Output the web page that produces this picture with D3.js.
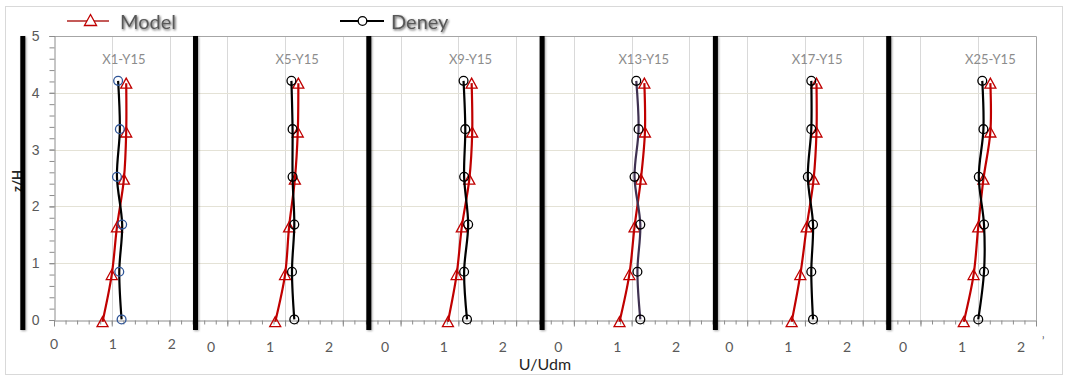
<!DOCTYPE html>
<html>
<head>
<meta charset="utf-8">
<script src="https://cdn.jsdelivr.net/npm/d3@7/dist/d3.min.js"></script>
<style>
  html, body { margin: 0; padding: 0; background: #fff; }
  svg { display: block; font-family: Lato, "Noto Sans", sans-serif; }
</style>
</head>
<body>
<div id="chart"></div>
<script>
// ---- data ----
const panelTitles = ['X1-Y15', 'X5-Y15', 'X9-Y15', 'X13-Y15', 'X17-Y15', 'X25-Y15'];
const seriesNames = ['Model', 'Deney'];

// z/H levels of the two series
const zModel = [-0.03, 0.80, 1.64, 2.48, 3.31, 4.17];
const zDeney = [0.01, 0.85, 1.68, 2.52, 3.36, 4.21];

// U/Udm per panel, bottom to top
const modelU = [
  [0.84, 1.00, 1.09, 1.21, 1.25, 1.25],
  [0.83, 1.00, 1.07, 1.17, 1.22, 1.23],
  [0.82, 0.97, 1.06, 1.19, 1.24, 1.23],
  [0.79, 0.96, 1.05, 1.16, 1.23, 1.22],
  [0.77, 0.92, 1.03, 1.15, 1.20, 1.20],
  [0.75, 0.92, 1.00, 1.09, 1.21, 1.21]
];
const deneyU = [
  [1.17, 1.13, 1.18, 1.09, 1.14, 1.11],
  [1.16, 1.12, 1.16, 1.13, 1.13, 1.11],
  [1.15, 1.10, 1.17, 1.10, 1.12, 1.09],
  [1.15, 1.10, 1.15, 1.05, 1.12, 1.08],
  [1.14, 1.11, 1.14, 1.05, 1.11, 1.11],
  [1.00, 1.10, 1.10, 1.01, 1.09, 1.07]
];

const xTickLabels = ['0', '1', '2'];
const yTickValues = [0, 1, 2, 3, 4, 5];

// ---- layout (axis units) ----
const panelStep = 3;                                   // each panel shifted by 3 units
const xMax = 17;
const separatorsU = [-0.54, 2.45, 5.45, 8.45, 11.45, 14.45];
const labelStartsU = [0, 2.72, 5.73, 8.73, 11.69, 14.70];
const labelStepU = 1.02;

const width = 1066, height = 376;
const plot = { left: 54, right: 1036, top: 36, bottom: 320 };

const colors = {
  model: '#c00000',
  modelLegend: '#c45a58',
  deney: '#000000',
  deneyLine: ['#000', '#000', '#000', '#3f3151', '#000', '#000'],
  deneyMarker: ['#2f5597', '#000', '#000', '#000', '#000', '#000'],
  gridH: '#e4e2d6',
  gridV: '#d9d9d9',
  axis: '#8c8c8c',
  label: '#595959',
  title: '#8c8c8c'
};

const svg = d3.select('#chart').append('svg')
  .attr('width', width)
  .attr('height', height);

const defs = svg.append('defs');
defs.append('filter').attr('id', 'txtShadow')
  .attr('x', '-20%').attr('y', '-40%').attr('width', '140%').attr('height', '180%')
  .append('feDropShadow')
  .attr('dx', 1).attr('dy', 1.2).attr('stdDeviation', 1.1)
  .attr('flood-color', '#000').attr('flood-opacity', 0.65);
defs.append('filter').attr('id', 'barShadow')
  .attr('x', '-100%').attr('y', '-5%').attr('width', '300%').attr('height', '110%')
  .append('feDropShadow')
  .attr('dx', 1).attr('dy', 1).attr('stdDeviation', 1)
  .attr('flood-color', '#000').attr('flood-opacity', 0.35);

// background + outer frame
svg.append('rect').attr('width', width).attr('height', height).attr('fill', '#fff');
svg.append('rect')
  .attr('x', 5.5).attr('y', 6.5)
  .attr('width', 1057).attr('height', 368)
  .attr('fill', 'none').attr('stroke', '#d9d9d9');

const x = d3.scaleLinear().domain([0, xMax]).range([plot.left, plot.right]);
const y = d3.scaleLinear().domain([0, 5]).range([plot.bottom, plot.top]);

// gridlines
svg.append('g')
  .selectAll('line')
  .data(d3.range(1, xMax))
  .join('line')
  .attr('x1', d => Math.round(x(d)) + 0.5).attr('x2', d => Math.round(x(d)) + 0.5)
  .attr('y1', plot.top).attr('y2', plot.bottom)
  .attr('stroke', colors.gridV);

svg.append('g')
  .selectAll('line')
  .data(yTickValues.filter(v => v > 0 && v < 5))
  .join('line')
  .attr('x1', plot.left).attr('x2', plot.right)
  .attr('y1', d => Math.round(y(d)) + 0.5).attr('y2', d => Math.round(y(d)) + 0.5)
  .attr('stroke', colors.gridH);

// plot frame (top / right)
svg.append('path')
  .attr('d', `M${plot.left},${plot.top + 0.5}H${plot.right + 0.5}V${plot.bottom}`)
  .attr('fill', 'none').attr('stroke', '#a6a6a6');

// y axis
const minorY = d3.range(0, 5.001, 0.2);
svg.append('g')
  .attr('transform', `translate(${plot.left + 0.5},0)`)
  .call(d3.axisLeft(y).tickValues(minorY).tickSize(5).tickFormat(''))
  .call(g => g.selectAll('.domain,line').attr('stroke', colors.axis));

svg.append('g')
  .attr('transform', `translate(${plot.left + 0.5},0)`)
  .call(d3.axisLeft(y).tickValues(yTickValues).tickSize(5).tickPadding(10).tickFormat(d3.format('d')))
  .call(g => g.select('.domain').remove())
  .call(g => g.selectAll('line').attr('stroke', colors.axis))
  .call(g => g.selectAll('text').attr('fill', colors.label).style('font-size', '14px'));

// x axis (ticks only; labels drawn per panel)
const minorX = d3.range(0, xMax + 0.001, 0.2);
svg.append('g')
  .attr('transform', `translate(0,${plot.bottom + 0.5})`)
  .call(d3.axisBottom(x).tickValues(minorX).tickSize(4).tickFormat(''))
  .call(g => g.selectAll('.domain,line').attr('stroke', colors.axis));
svg.append('g')
  .attr('transform', `translate(0,${plot.bottom + 0.5})`)
  .call(d3.axisBottom(x).tickValues(d3.range(0, xMax + 1)).tickSize(6).tickFormat(''))
  .call(g => g.select('.domain').remove())
  .call(g => g.selectAll('line').attr('stroke', colors.axis));

// per-panel tick labels
labelStartsU.forEach((start, p) => {
  svg.append('g')
    .selectAll('text')
    .data(xTickLabels)
    .join('text')
    .attr('x', (d, i) => x(start + i * labelStepU))
    .attr('y', p === 0 ? 349 : 352)
    .attr('text-anchor', 'middle')
    .attr('fill', colors.label)
    .style('font-size', '14px')
    .text(d => d);
});
svg.append('text')
  .attr('x', 1042).attr('y', 345)
  .attr('fill', colors.label)
  .style('font-size', '11px')
  .text('\u2019');

// axis titles
svg.append('text')
  .attr('transform', 'translate(22,181) rotate(-90)')
  .attr('text-anchor', 'middle')
  .attr('fill', '#262626')
  .style('font-size', '13px')
  .style('font-weight', 'bold')
  .text('z/H');

svg.append('text')
  .attr('x', 545).attr('y', 370)
  .attr('text-anchor', 'middle')
  .attr('fill', '#262626')
  .style('font-size', '16px')
  .text('U/Udm');

// thick separators between the panels
svg.append('g')
  .selectAll('rect')
  .data(separatorsU)
  .join('rect')
  .attr('x', d => x(d) - 2.5)
  .attr('width', 5)
  .attr('y', y(5))
  .attr('height', y(0) + 10 - y(5))
  .attr('fill', '#000')
  .attr('filter', 'url(#barShadow)');

// panel titles
svg.append('g')
  .selectAll('text')
  .data(panelTitles)
  .join('text')
  .attr('x', (d, i) => x(i * panelStep + 1.21))
  .attr('y', 64)
  .attr('text-anchor', 'middle')
  .attr('fill', colors.title)
  .style('font-size', '13px')
  .text(d => d);

// series
const line = d3.line()
  .x(d => x(d.u))
  .y(d => y(d.z))
  .curve(d3.curveCatmullRom.alpha(0.5));

const triangle = (s) => `M0,${-s / 2}L${s * 0.55},${s / 2}L${-s * 0.55},${s / 2}Z`;

panelTitles.forEach((title, p) => {
  const off = p * panelStep;
  const model = modelU[p].map((u, i) => ({ u: u + off, z: zModel[i] }));
  const deney = deneyU[p].map((u, i) => ({ u: u + off, z: zDeney[i] }));

  const g = svg.append('g').attr('class', 'panel');

  g.append('path')
    .datum(model)
    .attr('d', line)
    .attr('fill', 'none')
    .attr('stroke', colors.model)
    .attr('stroke-width', 2.2);

  g.selectAll('path.tri')
    .data(model)
    .join('path')
    .attr('class', 'tri')
    .attr('transform', d => `translate(${x(d.u)},${y(d.z)})`)
    .attr('d', triangle(10))
    .attr('fill', 'none')
    .attr('stroke', colors.model)
    .attr('stroke-width', 1.3);

  g.append('path')
    .datum(deney)
    .attr('d', line)
    .attr('fill', 'none')
    .attr('stroke', colors.deneyLine[p])
    .attr('stroke-width', 2.2);

  g.selectAll('circle')
    .data(deney)
    .join('circle')
    .attr('cx', d => x(d.u))
    .attr('cy', d => y(d.z))
    .attr('r', 4.4)
    .attr('fill', 'none')
    .attr('stroke', colors.deneyMarker[p])
    .attr('stroke-width', 1.3);
});

// legend
const legend = svg.append('g');
legend.append('line')
  .attr('x1', 67).attr('x2', 109).attr('y1', 21).attr('y2', 21)
  .attr('stroke', colors.modelLegend).attr('stroke-width', 2);
legend.append('path')
  .attr('transform', 'translate(90.5,20)')
  .attr('d', triangle(11))
  .attr('fill', '#fff')
  .attr('stroke', colors.model).attr('stroke-width', 1.3);
legend.append('text')
  .attr('x', 120).attr('y', 29)
  .attr('fill', colors.label)
  .attr('filter', 'url(#txtShadow)')
  .style('font-size', '20px')
  .text(seriesNames[0]);

legend.append('line')
  .attr('x1', 340).attr('x2', 384).attr('y1', 21).attr('y2', 21)
  .attr('stroke', colors.deney).attr('stroke-width', 2);
legend.append('circle')
  .attr('cx', 362.5).attr('cy', 21).attr('r', 4.3)
  .attr('fill', '#fff')
  .attr('stroke', colors.deney).attr('stroke-width', 1.3);
legend.append('text')
  .attr('x', 391).attr('y', 29)
  .attr('fill', colors.label)
  .attr('filter', 'url(#txtShadow)')
  .style('font-size', '20px')
  .text(seriesNames[1]);
</script>
</body>
</html>
